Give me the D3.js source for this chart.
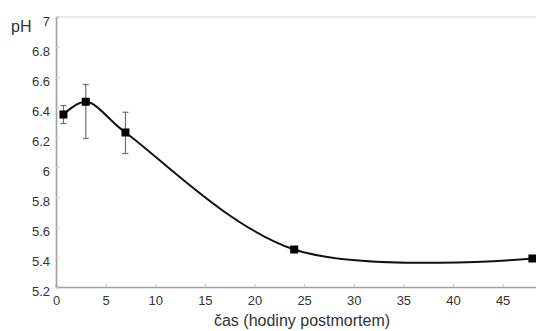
<!DOCTYPE html>
<html>
<head>
<meta charset="utf-8">
<script src="https://cdn.jsdelivr.net/npm/d3@7"></script>
<style>
  html, body { margin: 0; padding: 0; background: #fff; }
  svg { display: block; font-family: "Liberation Sans", Arial, sans-serif; }
</style>
</head>
<body>
<svg id="chart" width="536" height="331"></svg>
<script>
// pH of tissue over time after death, with error ranges
const hours   = [0.75, 3, 7, 24, 48];
const phMean  = [6.35, 6.435, 6.23, 5.45, 5.39];
const phUpper = [6.41, 6.55, 6.365, null, null];
const phLower = [6.29, 6.19, 6.09, null, null];
const xTicks  = [0, 5, 10, 15, 20, 25, 30, 35, 40, 45];
const yTicks  = [5.2, 5.4, 5.6, 5.8, 6, 6.2, 6.4, 6.6, 6.8, 7];

const svg = d3.select("#chart");
const x = d3.scaleLinear().domain([0, 50]).range([56, 552.25]);
const y = d3.scaleLinear().domain([5.2, 7]).range([287, 17]);

const axisColor = "#a0a0a0";
const textColor = "#333";

// frame: top border
svg.append("line")
  .attr("x1", x(0)).attr("x2", x(50))
  .attr("y1", y(7)).attr("y2", y(7))
  .attr("stroke", "#cfcfcf").attr("stroke-width", 1);

// x axis
const xAxis = svg.append("g")
  .attr("transform", `translate(0,${y(5.2)})`)
  .call(d3.axisBottom(x).tickValues(xTicks).tickSize(-3).tickPadding(6).tickFormat(d3.format("d")));
// y axis
const yAxis = svg.append("g")
  .attr("transform", `translate(${x(0)},0)`)
  .call(d3.axisLeft(y).tickValues(yTicks).tickSize(-3).tickPadding(6).tickFormat(d => d3.format("~g")(d)));

[xAxis, yAxis].forEach(g => {
  g.select(".domain").attr("stroke", axisColor).attr("stroke-width", 1.6);
  g.selectAll(".tick line").attr("stroke", "#c8c8c8");
  g.selectAll(".tick text")
    .attr("fill", textColor)
    .style("font-size", "13px")
    .style("font-family", "Liberation Sans, Arial, sans-serif");
});
yAxis.selectAll(".tick text").attr("dy", "0.65em").attr("x", -6);
xAxis.selectAll(".tick text").attr("dy", "0.9em");

// axis titles
svg.append("text")
  .attr("x", 11).attr("y", 32)
  .attr("fill", textColor)
  .style("font-size", "16px")
  .text("pH");
svg.append("text")
  .attr("x", 302).attr("y", 326)
  .attr("text-anchor", "middle")
  .attr("fill", textColor)
  .style("font-size", "16px")
  .text("čas (hodiny postmortem)");

const data = hours.map((h, i) => ({ h, m: phMean[i], hi: phUpper[i], lo: phLower[i] }));

// error bars
const eb = svg.append("g").attr("stroke", "#707070").attr("stroke-width", 1.2);
data.filter(d => d.hi != null).forEach(d => {
  eb.append("line").attr("x1", x(d.h)).attr("x2", x(d.h))
    .attr("y1", y(d.hi)).attr("y2", y(d.lo));
  [d.hi, d.lo].forEach(v => {
    eb.append("line").attr("x1", x(d.h) - 3).attr("x2", x(d.h) + 3)
      .attr("y1", y(v)).attr("y2", y(v));
  });
});

// smoothed line
const line = d3.line()
  .x(d => x(d.h)).y(d => y(d.m))
  .curve(d3.curveCatmullRom.alpha(0.5));
svg.append("path")
  .datum(data)
  .attr("d", line)
  .attr("fill", "none")
  .attr("stroke", "#111")
  .attr("stroke-width", 2);

// markers
svg.append("g").selectAll("rect")
  .data(data)
  .join("rect")
  .attr("x", d => x(d.h) - 4)
  .attr("y", d => y(d.m) - 4)
  .attr("width", 8).attr("height", 8)
  .attr("fill", "#000");
</script>
</body>
</html>
